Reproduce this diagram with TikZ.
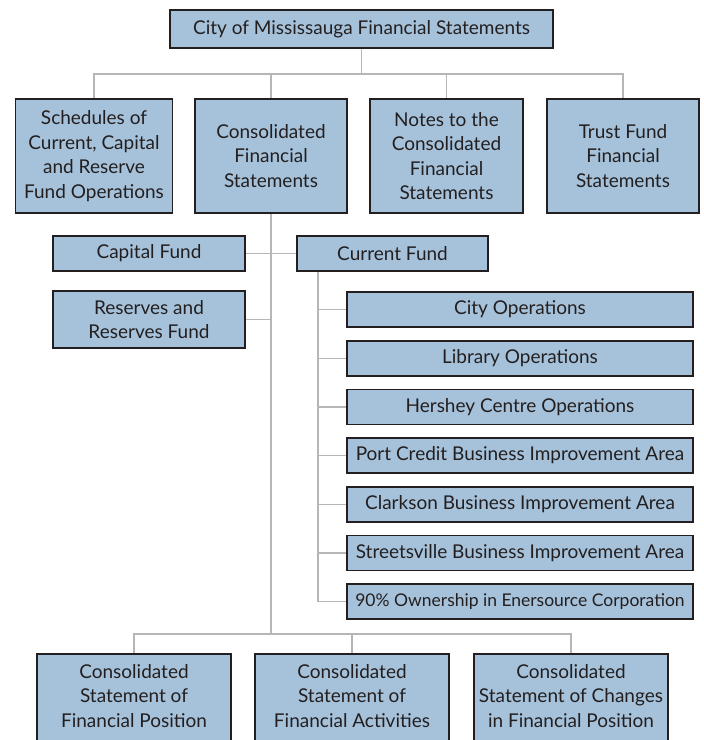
\documentclass[tikz,border=0pt]{standalone}
\usepackage{fontspec}
\setmainfont{Lato}
\definecolor{boxfill}{RGB}{166,194,218}
\definecolor{ink}{RGB}{35,31,32}
\definecolor{wirecol}{RGB}{182,182,182}
\newcommand{\boxfont}{\fontsize{19}{24.5}\selectfont}
\newcommand{\narrowfont}{\fontsize{17.5}{24.5}\selectfont}
\tikzset{
  box/.style={draw=ink, line width=1.8pt, fill=boxfill, text=ink,
              align=center, inner sep=0pt, font=\boxfont},
  boxtext/.style={text=ink, align=center, inner sep=0pt, font=\boxfont},
  link/.style={draw=wirecol, line width=1.3pt}
}
\begin{document}
\begin{tikzpicture}[x=1pt, y=-1pt]
\useasboundingbox (0,0) rectangle (704,740);

% top level
\node[box, minimum width=383, minimum height=38] (top) at (361.5,29)
  {City of Mississauga Financial Statements};

% second row
\node[box, minimum width=157, minimum height=114] (sched) at (94,156)
  {Schedules of\\Current, Capital\\and Reserve\\Fund Operations};
\node[box, minimum width=152, minimum height=114] (cons) at (271,156)
  {Consolidated\\Financial\\Statements};
\node[box, minimum width=153, minimum height=114] (notes) at (446.5,156)
  {Notes to the\\Consolidated\\Financial\\Statements};
\node[box, minimum width=152, minimum height=114] (trust) at (623,156)
  {Trust Fund\\Financial\\Statements};

% funds
\node[box, minimum width=192, minimum height=35] (capital) at (149,253.5) {Capital Fund};
\node[box, minimum width=191, minimum height=35] (current) at (392.5,253.5) {Current Fund};
\node[box, minimum width=192, minimum height=57] (reserves) at (149,319.5)
  {Reserves and\\Reserves Fund};

% current fund components
\foreach \n/\t [count=\k from 0] in {
  s1/City Operations,
  s2/Library Operations,
  s3/Hershey Centre Operations,
  s4/Port Credit Business Improvement Area,
  s5/Clarkson Business Improvement Area,
  s6/Streetsville Business Improvement Area}
  \node[box, minimum width=346, minimum height=35] (\n) at (520,309.5+48.7*\k) {\t};
\node[box, font=\narrowfont, minimum width=346, minimum height=35] (s7) at (520,601.7)
  {90\% Ownership in Enersource Corporation};

% consolidated statements (boxes run past the lower edge)
\node[box, minimum width=194, minimum height=120, anchor=north] (pos) at (134,653) {};
\node[box, minimum width=194, minimum height=120, anchor=north] (act) at (352,653) {};
\node[box, minimum width=194, minimum height=120, anchor=north] (chg) at (571,653) {};
\node[boxtext] (post) at (pos.north |- 0,696) {Consolidated\\Statement of\\Financial Position};
\node[boxtext] (actt) at (act.north |- 0,696) {Consolidated\\Statement of\\Financial Activities};
\node[boxtext] (chgt) at (chg.north |- 0,696) {Consolidated\\Statement of Changes\\in Financial Position};

% connectors
\coordinate (busT) at (top.south |- 0,74);
\draw[link] (top.south) -- (busT);
\draw[link] (busT) -| (sched.north);
\draw[link] (busT) -| (cons.north);
\draw[link] (busT) -| (notes.north);
\draw[link] (busT) -| (trust.north);

\coordinate (busB) at (cons.south |- 0,634);
\draw[link] (cons.south) -- (busB);
\draw[link] (busB) -| (pos.north);
\draw[link] (busB) -| (act.north);
\draw[link] (busB) -| (chg.north);

\draw[link] (capital.east) -- (current.west);
\draw[link] (reserves.east) -- (reserves.east -| cons.south);

\coordinate (cspine) at (318,0);
\draw[link] (current.south -| cspine) |- (s7.west);
\foreach \n in {s1,s2,s3,s4,s5,s6}
  \draw[link] (\n.west -| cspine) -- (\n.west);
\end{tikzpicture}
\end{document}
